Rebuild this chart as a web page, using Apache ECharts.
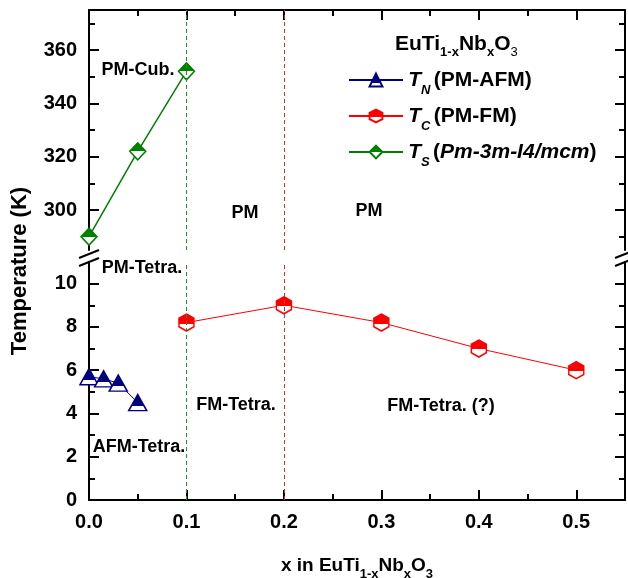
<!DOCTYPE html>
<html><head><meta charset="utf-8">
<script src="https://cdn.jsdelivr.net/npm/echarts@6/dist/echarts.min.js"></script>
<style>html,body{margin:0;padding:0;background:#fff}#c{width:628px;height:578px}</style>
</head><body><div id="c"></div>
<script>
// ---- data ----
const xN = [0, 0.015, 0.03, 0.05];
const tN = [5.7, 5.6, 5.4, 4.5];
const xC = [0.1, 0.2, 0.3, 0.4, 0.5];
const tC = [8.2, 9.0, 8.2, 7.0, 6.0];
const xS = [0, 0.05, 0.1];
const tS = [290, 322, 352];
const boundaryS = 0.1;   // structural transition line
const boundaryC = 0.2;   // magnetic transition line
const yTopMajor = [300, 320, 340, 360];
const yTopMinor = [290, 310, 330, 350, 370];
const yBotMajor = [0, 2, 4, 6, 8, 10];
const yBotMinor = [1, 3, 5, 7, 9];
const xLabels = ['0.0', '0.1', '0.2', '0.3', '0.4', '0.5'];

const FONT = 'Liberation Sans, Arial, sans-serif';
const chart = echarts.init(document.getElementById('c'));
const half = (c, f) => new echarts.graphic.LinearGradient(0, 0, 0, 1, [
  {offset: 0, color: c}, {offset: f, color: c}, {offset: f, color: '#fff'}, {offset: 1, color: '#fff'}]);
const NAVY = '#00007f', RED = '#ff0000', GREEN = '#008000';
const hexPath = 'path://M0,-1 L0.866,-0.5 L0.866,0.5 L0,1 L-0.866,0.5 L-0.866,-0.5 Z';
const diaPath = 'path://M0,-1 L1,0 L0,1 L-1,0 Z';
const triPath = 'path://M0,-1 L1,0.75 L-1,0.75 Z';

const pair = (xs, ys) => xs.map((x, i) => [x, ys[i]]);
const tickStyle = {lineStyle: {color: '#000', width: 2}};
function yAxes(grid, min, max, major, minor, labels) {
  const base = {type: 'value', gridIndex: grid, min: min, max: max, splitLine: {show: false}};
  return [
    Object.assign({}, base, {position: 'left',
      axisLine: {show: true, lineStyle: {color: '#000', width: 2}},
      axisTick: Object.assign({show: true, inside: true, length: 10, customValues: major}, tickStyle),
      axisLabel: {show: labels, customValues: major, color: '#000', fontFamily: FONT, fontWeight: 'bold', fontSize: 20, margin: 12}}),
    Object.assign({}, base, {position: 'left', axisLine: {show: false},
      axisTick: Object.assign({show: true, inside: true, length: 6, customValues: minor}, tickStyle),
      axisLabel: {show: false}}),
    Object.assign({}, base, {position: 'right',
      axisLine: {show: true, lineStyle: {color: '#000', width: 2}},
      axisTick: Object.assign({show: true, inside: true, length: 10, customValues: major}, tickStyle),
      axisLabel: {show: false}}),
    Object.assign({}, base, {position: 'right', axisLine: {show: false},
      axisTick: Object.assign({show: true, inside: true, length: 6, customValues: minor}, tickStyle),
      axisLabel: {show: false}})
  ];
}

// rich-text helpers
function main(size, extra, va) {
  return Object.assign({fontFamily: FONT, fontWeight: 'bold', fontSize: size, color: '#000',
    lineHeight: size + 2, height: size + 2, verticalAlign: va || 'top'}, extra || {});
}
function subs(size, drop, extra) {
  return Object.assign({fontFamily: FONT, fontWeight: 'bold', fontSize: size, color: '#000',
    lineHeight: drop, height: drop, verticalAlign: 'bottom'}, extra || {});
}
// legend: symmetric line box (44px) so the legend symbol stays centred on the main text
const legRich = {
  z: {fontSize: 1, lineHeight: 44, height: 44, verticalAlign: 'middle'},
  t: main(21, {fontStyle: 'italic'}, 'middle'),
  s: subs(13, 23, {fontStyle: 'italic'}),
  n: main(21, null, 'middle'),
  i: main(21, {fontStyle: 'italic'}, 'middle')
};
const legendText = {
  'TN': '{z| }{t|T}{s|N} {n|(PM-AFM)}',
  'TC': '{z| }{t|T}{s|C} {n|(PM-FM)}',
  'TS': '{z| }{t|T}{s|S} {n|(}{i|Pm-3m-I4/mcm}{n|)}'
};
const dash = (c) => ({color: c, type: [4, 3], width: 1});

const option = {
  animation: false,
  backgroundColor: '#fff',
  grid: [
    {left: 89, right: 3, top: 10, height: 240, outerBoundsMode: 'none', containLabel: false},
    {left: 89, right: 3, top: 262, height: 238, outerBoundsMode: 'none', containLabel: false}
  ],
  xAxis: [
    {type: 'value', gridIndex: 0, position: 'top', min: 0, max: 0.55, interval: 0.1,
     axisLine: {show: true, onZero: false, lineStyle: {color: '#000', width: 2}},
     axisTick: Object.assign({show: true, inside: true, length: 10}, tickStyle),
     minorTick: {show: true, splitNumber: 2, length: 6, lineStyle: {color: '#000', width: 2}},
     axisLabel: {show: false}, splitLine: {show: false}},
    {type: 'value', gridIndex: 1, position: 'bottom', min: 0, max: 0.55, interval: 0.1,
     axisLine: {show: true, onZero: false, lineStyle: {color: '#000', width: 2}},
     axisTick: Object.assign({show: true, inside: true, length: 10}, tickStyle),
     minorTick: {show: true, splitNumber: 2, length: 6, lineStyle: {color: '#000', width: 2}},
     axisLabel: {color: '#000', fontFamily: FONT, fontWeight: 'bold', fontSize: 20, margin: 12,
       formatter: (v) => xLabels[Math.round(v * 10)] || ''},
     splitLine: {show: false},
     name: '{n|x in EuTi}{s|1-x}{n|Nb}{s|x}{n|O}{s|3}', nameLocation: 'middle', nameGap: 55,
     nameTextStyle: {rich: {n: main(19), s: subs(13, 38)}}}
  ],
  yAxis: [].concat(
    yAxes(0, 285, 375, yTopMajor, yTopMinor, true),
    yAxes(1, 0, 11, yBotMajor, yBotMinor, true)
  ),
  legend: {
    orient: 'vertical', left: 348, top: 58, padding: 0, itemGap: -8,
    itemWidth: 54, itemHeight: 16,
    data: ['TN', 'TC', 'TS'],
    formatter: (name) => legendText[name],
    textStyle: {rich: legRich}
  },
  series: [
    {name: 'TS', type: 'line', xAxisIndex: 0, yAxisIndex: 0, data: pair(xS, tS),
     symbol: diaPath, symbolSize: [16, 17],
     lineStyle: {color: GREEN, width: 1.5},
     itemStyle: {color: half(GREEN, 0.5), borderColor: GREEN, borderWidth: 1.5},
     markLine: {silent: true, symbol: 'none', label: {show: false},
       data: [{xAxis: boundaryS, lineStyle: dash('#1a9a1a')}, {xAxis: boundaryC, lineStyle: dash('#d03030')}]}},
    {name: 'TN', type: 'line', xAxisIndex: 1, yAxisIndex: 4, data: pair(xN, tN),
     symbol: triPath, symbolSize: [18, 16],
     lineStyle: {color: NAVY, width: 1},
     itemStyle: {color: half(NAVY, 0.68), borderColor: NAVY, borderWidth: 1.5}},
    {name: 'TC', type: 'line', xAxisIndex: 1, yAxisIndex: 4, data: pair(xC, tC),
     symbol: hexPath, symbolSize: [15, 17],
     lineStyle: {color: RED, width: 1},
     itemStyle: {color: half(RED, 0.55), borderColor: RED, borderWidth: 1.5},
     markLine: {silent: true, symbol: 'none', label: {show: false},
       data: [{xAxis: boundaryS, lineStyle: dash('#1a9a1a')}, {xAxis: boundaryC, lineStyle: dash('#d03030')}]}}
  ],
  graphic: [
    {type: 'text', left: 395, top: 33, style: {
      text: '{n|EuTi}{s|1-x}{n|Nb}{s|x}{n|O}{t|3}',
      rich: {n: main(21), s: subs(13, 38), t: subs(13, 38, {fontWeight: 'normal'})}}},
    {type: 'text', x: 20, y: 271, rotation: Math.PI / 2, style: {text: 'Temperature (K)', fill: '#000',
      font: 'bold 22px ' + FONT, align: 'center', verticalAlign: 'middle'}},
    {type: 'text', x: 138, y: 70, style: {text: 'PM-Cub.', fill: '#000', font: 'bold 18px ' + FONT, align: 'center', verticalAlign: 'middle'}},
    {type: 'text', x: 142, y: 268, style: {text: 'PM-Tetra.', fill: '#000', font: 'bold 18px ' + FONT, align: 'center', verticalAlign: 'middle'}},
    {type: 'text', x: 245, y: 213, style: {text: 'PM', fill: '#000', font: 'bold 18px ' + FONT, align: 'center', verticalAlign: 'middle'}},
    {type: 'text', x: 369, y: 211, style: {text: 'PM', fill: '#000', font: 'bold 18px ' + FONT, align: 'center', verticalAlign: 'middle'}},
    {type: 'text', x: 236, y: 405, style: {text: 'FM-Tetra.', fill: '#000', font: 'bold 18px ' + FONT, align: 'center', verticalAlign: 'middle'}},
    {type: 'text', x: 441, y: 406, style: {text: 'FM-Tetra. (?)', fill: '#000', font: 'bold 18px ' + FONT, align: 'center', verticalAlign: 'middle'}},
    {type: 'text', x: 139, y: 447, style: {text: 'AFM-Tetra.', fill: '#000', font: 'bold 18px ' + FONT, align: 'center', verticalAlign: 'middle'}},
    {type: 'line', shape: {x1: 79, y1: 258, x2: 99, y2: 250}, style: {stroke: '#000', lineWidth: 2}},
    {type: 'line', shape: {x1: 79, y1: 266, x2: 99, y2: 258}, style: {stroke: '#000', lineWidth: 2}},
    {type: 'line', shape: {x1: 615, y1: 258, x2: 635, y2: 250}, style: {stroke: '#000', lineWidth: 2}},
    {type: 'line', shape: {x1: 615, y1: 266, x2: 635, y2: 258}, style: {stroke: '#000', lineWidth: 2}}
  ]
};
chart.setOption(option);
</script>
</body></html>
